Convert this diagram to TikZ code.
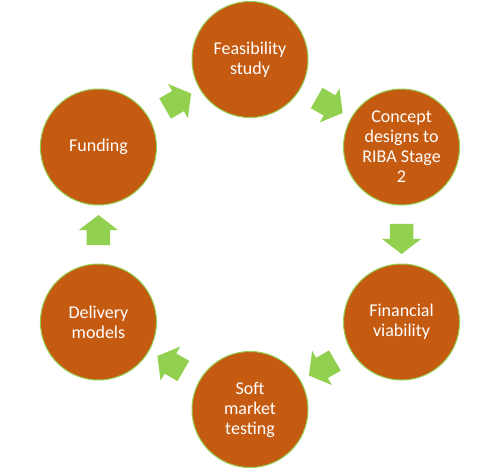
\documentclass[tikz,border=0pt]{standalone}
\usepackage{fontspec}
\setmainfont{Carlito}
\usepackage{tikz}
\usetikzlibrary{shapes.arrows,calc}
\definecolor{rust}{HTML}{C55A11}
\definecolor{leaf}{HTML}{92D050}
\tikzset{
  stage/.style={circle, draw=leaf, line width=1pt, fill=rust, minimum size=116pt,
    inner sep=0pt, text=white, align=center, font=\fontsize{18}{20}\selectfont},
  blockarrow/.style={single arrow, draw=none, fill=leaf, inner xsep=0pt, inner ysep=11.5pt,
    minimum width=39pt, minimum height=30pt, single arrow head extend=8pt,
    single arrow tip angle=105}
}

\begin{document}
\begin{tikzpicture}[x=1pt, y=1pt]
  \useasboundingbox (-250,-234.5) rectangle (250,234.5);
  % stages round the ring
  \node[stage] (feas)     at (90:175)   {Feasibility\\study};
  \node[stage] (concept)  at (30:175)   {Concept\\designs to\\RIBA Stage\\2};
  \node[stage] (finance)  at (-30:175)  {Financial\\viability};
  \node[stage] (soft)     at (-90:175)  {Soft\\market\\testing};
  \node[stage] (delivery) at (-150:175) {Delivery\\models};
  \node[stage] (funding)  at (150:175)  {Funding};
  % arrows between stages
  \foreach \from/\to/\ang in {feas/concept/-30, concept/finance/-90, finance/soft/-150,
      soft/delivery/150, delivery/funding/90, funding/feas/30}
    \node[blockarrow, rotate=\ang] (\from-\to) at ($(\from)!0.5!(\to)$) {};
\end{tikzpicture}
\end{document}
